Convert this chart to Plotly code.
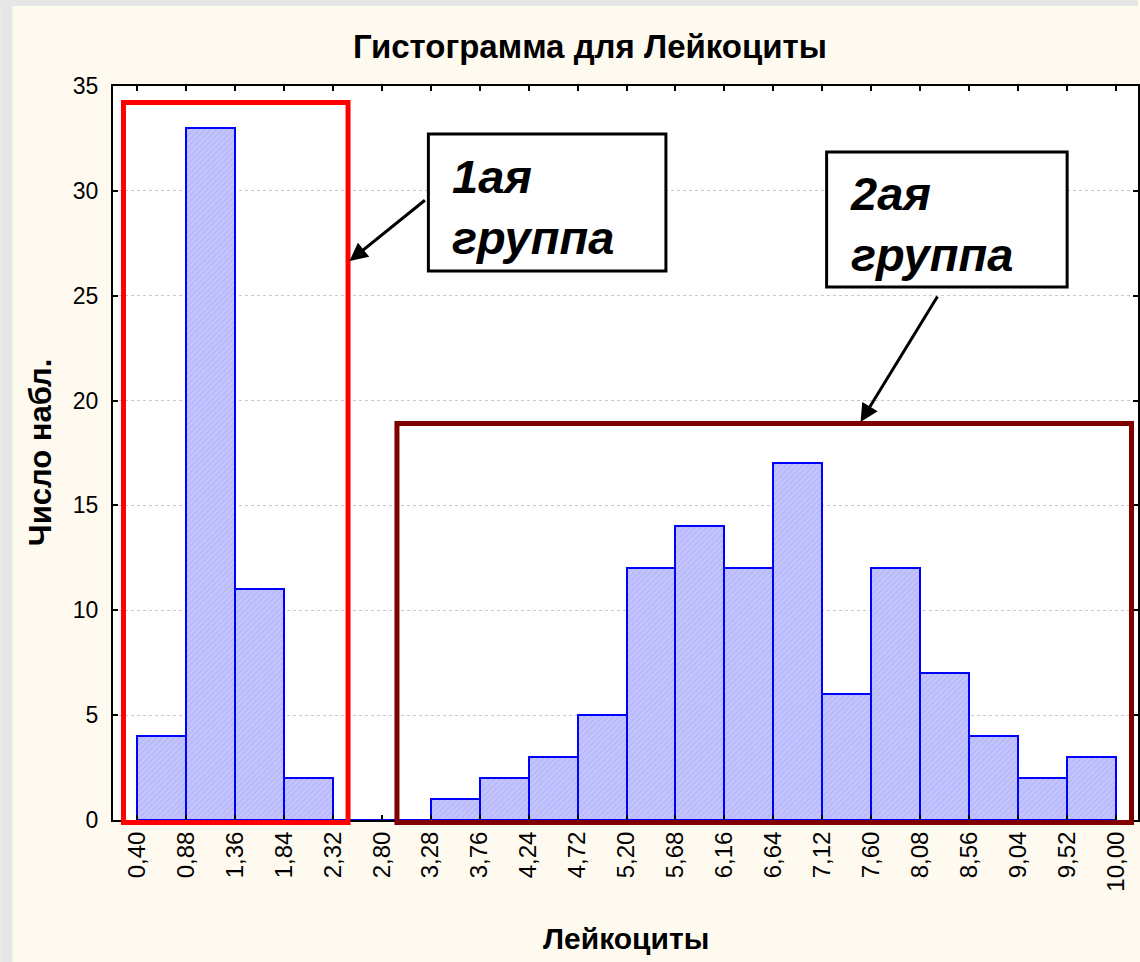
import plotly.graph_objects as go

# ---- data ----
bin_edges = [0.40, 0.88, 1.36, 1.84, 2.32, 2.80, 3.28, 3.76, 4.24, 4.72, 5.20,
             5.68, 6.16, 6.64, 7.12, 7.60, 8.08, 8.56, 9.04, 9.52, 10.00]
counts = [4, 33, 11, 2, 0, 0, 1, 2, 3, 5, 12, 14, 12, 17, 6, 12, 7, 4, 2, 3]
tick_labels = [f"{v:.2f}".replace(".", ",") for v in bin_edges]
y_ticks = [0, 5, 10, 15, 20, 25, 30, 35]

title_text = "Гистограмма для Лейкоциты"
x_title = "Лейкоциты"
y_title = "Число набл."
group1 = ["1ая", "группа"]
group2 = ["2ая", "группа"]

# ---- layout geometry (pixels) ----
W, H = 1140, 962
L, T, R, B = 113, 86, 0, 142
PW = W - L - R
PH = H - T - B
XMIN, XMAX = 0.165, 10.215
YMIN, YMAX = 0, 35


def px2x(px):
    return XMIN + (px - L) / PW * (XMAX - XMIN)


def px2y(py):
    return YMAX - (py - T) / PH * (YMAX - YMIN)


def ppx(px):
    return (px - L) / PW


def ppy(py):
    return 1 - (py - T) / PH


centers = [(a + b) / 2 for a, b in zip(bin_edges[:-1], bin_edges[1:])]
widths = [b - a for a, b in zip(bin_edges[:-1], bin_edges[1:])]

FONT = "Liberation Sans, Arial, sans-serif"

fig = go.Figure()
fig.add_trace(go.Bar(
    x=centers, y=counts, width=widths,
    marker=dict(
        color="#c4c4ff",
        line=dict(color="#0000ff", width=2),
        pattern=dict(shape="/", size=4, solidity=0.3, fgcolor="#a4a4f4"),
    ),
    hoverinfo="x+y",
))


def prect(x0, y0, x1, y1, **kw):
    return dict(type="rect", xref="paper", yref="paper",
                x0=ppx(x0), x1=ppx(x1), y0=ppy(y1), y1=ppy(y0), **kw)


shapes = [
    # outer gray strips
    prect(0, 0, 12, H, fillcolor="#e6e6e6", line=dict(width=0), layer="below"),
    prect(0, 0, W, 6, fillcolor="#e6e6e6", line=dict(width=0), layer="below"),
    # group rectangles
    prect(123.5, 102.5, 348.5, 822.5, line=dict(color="#ff0000", width=5)),
    prect(397.5, 423.5, 1133.5, 822.5, line=dict(color="#800000", width=5)),
    # label boxes
    prect(429, 134, 667, 271, fillcolor="white", line=dict(color="black", width=3)),
    prect(828, 152, 1069, 287, fillcolor="white", line=dict(color="black", width=3)),
]


def bi(lines):
    return "<br>".join(f"<b><i>{s}</i></b>" for s in lines)


annotations = [
    dict(text=bi(group1), x=ppx(451), y=ppy(207), xref="paper", yref="paper",
         xanchor="left", yanchor="middle", align="left", showarrow=False,
         font=dict(family=FONT, size=47, color="black")),
    dict(text=bi(group2), x=ppx(849), y=ppy(224), xref="paper", yref="paper",
         xanchor="left", yanchor="middle", align="left", showarrow=False,
         font=dict(family=FONT, size=47, color="black")),
    dict(text="", x=px2x(350), y=px2y(261), ax=px2x(427), ay=px2y(199),
         xref="x", yref="y", axref="x", ayref="y", showarrow=True,
         arrowhead=2, arrowsize=1.2, arrowwidth=3, arrowcolor="black", standoff=0),
    dict(text="", x=px2x(862), y=px2y(422), ax=px2x(940), ay=px2y(295),
         xref="x", yref="y", axref="x", ayref="y", showarrow=True,
         arrowhead=2, arrowsize=1.2, arrowwidth=3, arrowcolor="black", standoff=0),
    dict(text=f"<b>{x_title}</b>", x=ppx(627), y=ppy(939), xref="paper", yref="paper",
         xanchor="center", yanchor="middle", showarrow=False,
         font=dict(family=FONT, size=30, color="black")),
    dict(text=f"<b>{y_title}</b>", x=ppx(41), y=ppy(452), xref="paper", yref="paper",
         xanchor="center", yanchor="middle", showarrow=False, textangle=-90,
         font=dict(family=FONT, size=31, color="black")),
]

fig.update_layout(
    width=W, height=H,
    margin=dict(l=L, r=R, t=T, b=B, pad=0),
    paper_bgcolor="#fffaf0",
    plot_bgcolor="white",
    showlegend=False,
    bargap=0,
    title=dict(text=f"<b>{title_text}</b>", x=590 / W, xref="container", xanchor="center",
               y=1 - 46 / H, yref="container", yanchor="middle",
               font=dict(family=FONT, size=33, color="black")),
    shapes=shapes,
    annotations=annotations,
    font=dict(family=FONT, color="black"),
)
fig.update_xaxes(
    range=[XMIN, XMAX], tickmode="array", tickvals=bin_edges, ticktext=tick_labels,
    tickangle=-90, tickfont=dict(family=FONT, size=24, color="black"),
    showline=True, linecolor="black", linewidth=2, mirror="allticks",
    ticks="inside", ticklen=5, tickwidth=2, tickcolor="black",
    showgrid=False, zeroline=False, ticklabelstandoff=0,
)
fig.update_yaxes(
    range=[YMIN, YMAX], tickmode="array", tickvals=y_ticks,
    tickfont=dict(family=FONT, size=23, color="black"),
    showline=True, linecolor="black", linewidth=2, mirror="allticks",
    ticks="inside", ticklen=5, tickwidth=2, tickcolor="black",
    showgrid=True, gridcolor="#c8c8c8", griddash="dot", gridwidth=1,
    zeroline=False, ticklabelstandoff=8,
)

fig.write_html(
    "out.html",
    config={"displayModeBar": False},
    post_script="document.body.style.margin='0';document.body.style.overflow='hidden';",
)
